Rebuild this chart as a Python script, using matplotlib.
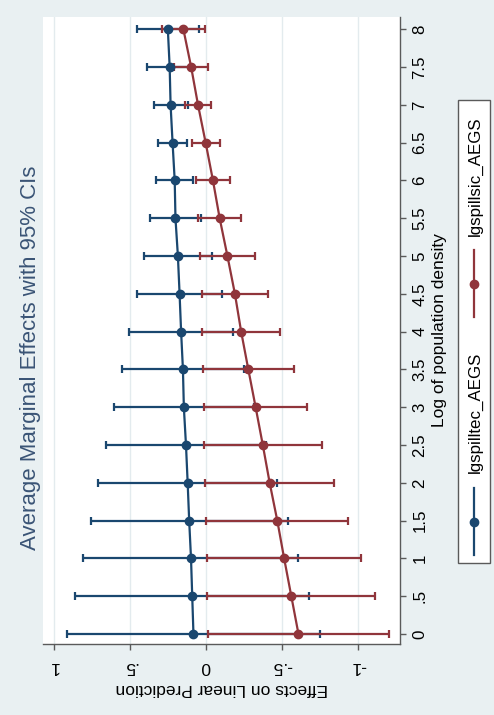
import matplotlib
matplotlib.use("Agg")
import matplotlib.pyplot as plt
from matplotlib.lines import Line2D
from matplotlib.patches import Rectangle
import numpy as np

# ---------------- data ----------------
density = [0, 0.5, 1, 1.5, 2, 2.5, 3, 3.5, 4, 4.5, 5, 5.5, 6, 6.5, 7, 7.5, 8]
density_labels = ["0", ".5", "1", "1.5", "2", "2.5", "3", "3.5", "4",
                  "4.5", "5", "5.5", "6", "6.5", "7", "7.5", "8"]

tec_est = [0.082, 0.090, 0.098, 0.110, 0.120, 0.131, 0.145, 0.151, 0.163,
           0.173, 0.184, 0.200, 0.205, 0.219, 0.232, 0.238, 0.250]
tec_hi = [0.909, 0.859, 0.804, 0.755, 0.705, 0.655, 0.602, 0.551, 0.503,
          0.453, 0.409, 0.370, 0.328, 0.316, 0.343, 0.387, 0.455]
tec_lo = [-0.745, -0.677, -0.607, -0.535, -0.465, -0.393, -0.312, -0.249, -0.177,
          -0.107, -0.040, 0.032, 0.082, 0.123, 0.121, 0.089, 0.046]

sic_est = [-0.607, -0.560, -0.513, -0.468, -0.418, -0.373, -0.326, -0.278, -0.231,
           -0.190, -0.141, -0.090, -0.046, 0.002, 0.052, 0.097, 0.148]
sic_hi = [-0.013, -0.009, -0.009, -0.003, 0.007, 0.013, 0.014, 0.020, 0.025,
          0.027, 0.039, 0.052, 0.065, 0.094, 0.139, 0.208, 0.288]
sic_lo = [-1.201, -1.111, -1.017, -0.933, -0.843, -0.759, -0.666, -0.576, -0.487,
          -0.407, -0.321, -0.232, -0.157, -0.090, -0.035, -0.014, 0.008]

effect_ticks = [1, 0.5, 0, -0.5, -1]
effect_labels = ["1", ".5", "0", "-.5", "-1"]

series_names = ["lgspilltec_AEGS", "lgspillsic_AEGS"]
title = "Average Marginal Effects with 95% CIs"
xtitle = "Effects on Linear Prediction"
ytitle = "Log of population density"

# ---------------- style ----------------
W, H = 494, 715
BG = "#E9F0F2"
BLUE = "#1A476F"
RED = "#90353B"
AXC = "#5A5A5A"
GRID = "#E3EBEE"
FONT = ["Liberation Sans", "DejaVu Sans"]
plt.rcParams["font.family"] = FONT

fig = plt.figure(figsize=(W / 100, H / 100), dpi=100, facecolor=BG)

def fx(px):
    return px / W

def fy(py):
    return 1 - py / H

ax = fig.add_axes([fx(43), fy(644), fx(400) - fx(43), fy(17) - fy(644)])
ax.set_facecolor("white")
ax.set_xlim(1.069, -1.273)
ax.set_ylim(-0.132, 8.163)

for s in ["top", "left"]:
    ax.spines[s].set_visible(False)
for s in ["bottom", "right"]:
    ax.spines[s].set_color(AXC)
    ax.spines[s].set_linewidth(1.0)

ax.set_xticks(effect_ticks)
ax.set_xticklabels(effect_labels, rotation=180, fontsize=12.5)
ax.set_yticks(density)
ax.yaxis.tick_right()
ax.set_yticklabels(density_labels, rotation=90, va="center", fontsize=12.2)
ax.tick_params(axis="x", direction="out", length=4, width=1, color=AXC, pad=7)
ax.tick_params(axis="y", direction="out", length=4, width=1, color=AXC, pad=5)
ax.grid(axis="x", color=GRID, linewidth=1.0, zorder=0)
ax.set_axisbelow(True)

def ci_err(est, lo, hi):
    e = np.asarray(est)
    return [e - np.asarray(lo), np.asarray(hi) - e]

lw = 1.6
ax.errorbar(tec_est, density, xerr=ci_err(tec_est, tec_lo, tec_hi), fmt="none",
            ecolor=BLUE, elinewidth=lw, capsize=2.8, capthick=lw, zorder=2)
ax.errorbar(sic_est, density, xerr=ci_err(sic_est, sic_lo, sic_hi), fmt="none",
            ecolor=RED, elinewidth=lw, capsize=2.8, capthick=lw, zorder=3)
ax.plot(tec_est, density, "-o", color=BLUE, lw=lw, ms=6, zorder=4)
ax.plot(sic_est, density, "-o", color=RED, lw=lw, ms=6, zorder=5)

# ---------------- texts ----------------
fig.text(fx(31), 0.5, title, rotation=90, ha="center", va="center",
         fontsize=16, color="#3A5476")
fig.text(fx(221.5), fy(688), xtitle, rotation=180, ha="center", va="center",
         fontsize=12.5, color="black")
fig.text(fx(439), fy(330.5), ytitle, rotation=90, ha="center", va="center",
         fontsize=12.5, color="black")

# ---------------- legend ----------------
fig.add_artist(Rectangle((fx(458), fy(563)), fx(490) - fx(458), fy(100) - fy(563),
                         transform=fig.transFigure, facecolor="white",
                         edgecolor=AXC, linewidth=1.0))
keys = [(BLUE, 488, 555, 521.5, 412.5), (RED, 250, 317, 283.5, 176.5)]
for (col, y1, y2, ym, yt), name in zip(keys, series_names):
    fig.add_artist(Line2D([fx(474), fx(474)], [fy(y1), fy(y2)],
                          transform=fig.transFigure, color=col, lw=lw))
    fig.add_artist(Line2D([fx(474)], [fy(ym)], transform=fig.transFigure,
                          color=col, marker="o", ms=6, lw=0))
    fig.text(fx(475), fy(yt), name, rotation=90, ha="center", va="center",
             fontsize=12.2, color="black")

fig.savefig("out.png", dpi=100, facecolor=BG)
